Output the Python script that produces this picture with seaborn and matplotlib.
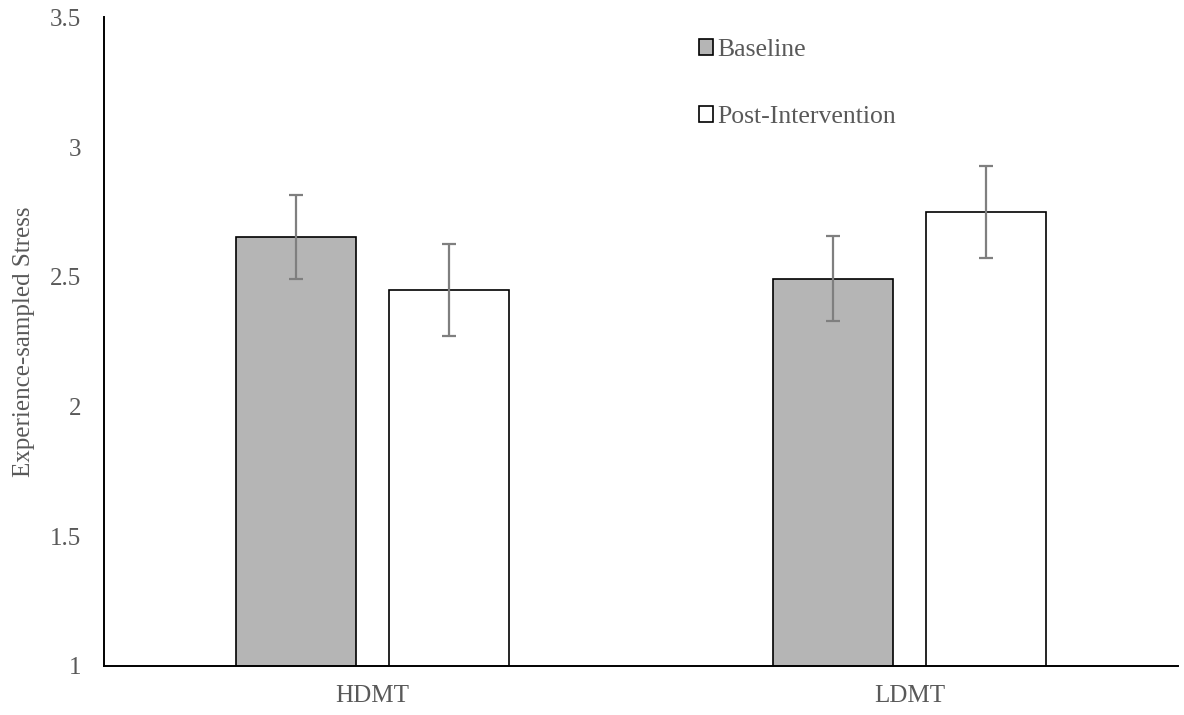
import matplotlib
matplotlib.use("Agg")
import matplotlib.pyplot as plt
import seaborn as sns
import pandas as pd
import numpy as np

# Mean experience-sampled stress by group and time point, with error bars
groups = ["HDMT", "HDMT", "LDMT", "LDMT"]
phases = ["Baseline", "Post-Intervention", "Baseline", "Post-Intervention"]
means = [2.655, 2.450, 2.492, 2.749]
errors = [0.162, 0.177, 0.164, 0.177]

group_order = ["HDMT", "LDMT"]
phase_order = ["Baseline", "Post-Intervention"]
phase_colors = {"Baseline": "#b5b5b5", "Post-Intervention": "#ffffff"}
y_ticks = [1, 1.5, 2, 2.5, 3, 3.5]
y_tick_labels = ["1", "1.5", "2", "2.5", "3", "3.5"]

df = pd.DataFrame({"group": groups, "phase": phases, "mean": means, "err": errors})

sns.set_theme(style="white")
plt.rcParams["font.family"] = ["Liberation Serif", "DejaVu Serif"]
text_color = "#595959"

fig = plt.figure(figsize=(11.84, 7.15), dpi=100)
ax = fig.add_axes([104 / 1184, 1 - 665.7 / 715, (1178 - 104) / 1184, (665.7 - 17.5) / 715])

sns.barplot(
    data=df, x="group", y="mean", hue="phase",
    order=group_order, hue_order=phase_order, palette=phase_colors,
    width=0.568, gap=0.213, errorbar=None,
    edgecolor="black", linewidth=1.2, ax=ax,
)

# Error bars placed on each bar's centre, values from the same table
for patch_container, phase in zip(ax.containers, phase_order):
    sub = df[df["phase"] == phase].set_index("group").loc[group_order]
    xs = [p.get_x() + p.get_width() / 2 for p in patch_container.patches]
    ax.errorbar(xs, sub["mean"].values, yerr=sub["err"].values, fmt="none",
                ecolor="#7f7f7f", elinewidth=1.6, capsize=5, capthick=1.6, zorder=5)

ax.set_ylim(1, 3.5)
ax.set_xlim(-0.5, 1.5)
ax.set_yticks(y_ticks)
ax.set_yticklabels(y_tick_labels)
ax.tick_params(axis="both", length=0, labelsize=18, colors=text_color)
ax.tick_params(axis="y", pad=16.5)
ax.tick_params(axis="x", pad=14)
ax.set_xlabel("")
ax.set_ylabel("Experience-sampled Stress", fontsize=18, color=text_color, labelpad=11)

for side in ["top", "right"]:
    ax.spines[side].set_visible(False)
for side in ["left", "bottom"]:
    ax.spines[side].set_color("black")
    ax.spines[side].set_linewidth(1.4)

handles, labels = ax.get_legend_handles_labels()
ax.legend(
    handles, labels, loc="upper left", bbox_to_anchor=(699 / 1184, 1 - 39 / 715),
    bbox_transform=fig.transFigure, frameon=False, fontsize=18.5,
    labelcolor=text_color, handlelength=0.55, handleheight=0.55,
    handletextpad=0.18, labelspacing=1.75, borderpad=0, borderaxespad=0,
)

fig.savefig("out.png", dpi=100)
